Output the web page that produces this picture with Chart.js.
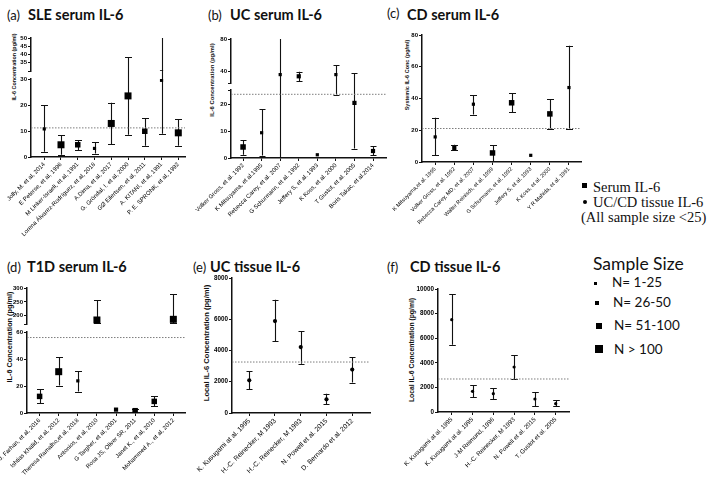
<!DOCTYPE html>
<html><head><meta charset="utf-8">
<script src="https://cdn.jsdelivr.net/npm/chart.js@4.4.1/dist/chart.umd.min.js"></script>
<style>
html,body{margin:0;padding:0;background:#fff;}
body{position:relative;width:709px;height:492px;overflow:hidden;}
canvas{position:absolute;left:0;top:0;}
.tx{position:absolute;white-space:nowrap;color:#111;line-height:1;transform:translateY(-50%);}
.ttl{font-family:Lato,'Open Sans',sans-serif;font-weight:bold;font-size:14.5px;}
.tag{font-family:Lato,'Open Sans',sans-serif;font-size:13px;}
.yt{position:absolute;white-space:nowrap;color:#111;line-height:1;font-family:'Liberation Sans',Arial,sans-serif;font-weight:bold;transform:translate(-50%,-50%) rotate(-90deg);}
.leg{font-family:'Liberation Serif','Times New Roman',serif;font-size:14.5px;}
.ss{font-family:Lato,'Open Sans',sans-serif;font-size:13.5px;}
.mk{position:absolute;background:#000;}
</style></head><body>

<!-- panel titles -->
<div class="tx tag" style="left:7px;top:15px">(a)</div><div class="tx ttl" style="left:28px;top:15px">SLE serum IL-6</div>
<div class="tx tag" style="left:208px;top:15px">(b)</div><div class="tx ttl" style="left:230px;top:15px">UC serum IL-6</div>
<div class="tx tag" style="left:387px;top:13px">(c)</div><div class="tx ttl" style="left:407px;top:15px">CD serum IL-6</div>
<div class="tx tag" style="left:7px;top:267px">(d)</div><div class="tx ttl" style="left:27px;top:267px">T1D serum IL-6</div>
<div class="tx tag" style="left:193px;top:267px">(e)</div><div class="tx ttl" style="left:210px;top:267px">UC tissue IL-6</div>
<div class="tx tag" style="left:387px;top:267px">(f)</div><div class="tx ttl" style="left:410px;top:267px">CD tissue IL-6</div>

<!-- y axis titles -->
<div class="yt" style="left:15px;top:67px;font-size:5.4px">IL-6 Concentration (pg/ml)</div>
<div class="yt" style="left:213px;top:80px;font-size:5.9px">IL-6 Concentration (pg/ml)</div>
<div class="yt" style="left:408px;top:75px;font-size:5.5px">Systemic IL-6 Conc (pg/ml)</div>
<div class="yt" style="left:10px;top:337px;font-size:7.3px">IL-6 Concentration (pg/ml)</div>
<div class="yt" style="left:207px;top:343px;font-size:7.6px">Local IL-6 Concentration (pg/ml)</div>
<div class="yt" style="left:412px;top:350px;font-size:6.8px">Local IL-6 Concentration (pg/ml)</div>

<!-- type legend -->
<div class="mk" style="left:582px;top:183px;width:5px;height:5px"></div>
<div class="tx leg" style="left:593px;top:187px">Serum IL-6</div>
<div class="mk" style="left:583px;top:200px;width:4px;height:4px;border-radius:50%"></div>
<div class="tx leg" style="left:593px;top:202px">UC/CD tissue IL-6</div>
<div class="tx leg" style="left:581px;top:217px">(All sample size &lt;25)</div>

<!-- sample size legend -->
<div class="tx ss" style="left:593px;top:264px;font-size:17.5px">Sample Size</div>
<div class="mk" style="left:593.5px;top:281.5px;width:3px;height:3px"></div>
<div class="tx ss" style="left:612px;top:283px">N= 1-25</div>
<div class="mk" style="left:595px;top:301px;width:4px;height:4px"></div>
<div class="tx ss" style="left:613px;top:303px">N= 26-50</div>
<div class="mk" style="left:596px;top:323px;width:5.5px;height:5.5px"></div>
<div class="tx ss" style="left:614px;top:326px">N= 51-100</div>
<div class="mk" style="left:595px;top:345px;width:7.5px;height:7.5px"></div>
<div class="tx ss" style="left:614px;top:350px">N &gt; 100</div>

<script>
// ---------- (a) SLE serum IL-6 ----------
const aLabels = ["Jolly, M. et al, 2014","E Peterse, et al, 1996","M Linker-Israeli, et al, 1991","Lorena Álvarez-Rodríguez, et al, 2018","A.Dima, et al, 2017","G. Gröndal, I. et al, 2000","GØ Eilertsen, et al, 2011","A. KITANI, et al, 1991","P. E. SPRONK, et al, 1992"];
const aMean = [10.8, 4.7, 4.7, 3.3, 12.9, 23.5, 9.9, 29.5, 9.3];
const aLow  = [2, 0.9, 2.7, 1.3, 4.9, 8.6, 4.3, 8.9, 4.3];
const aHigh = [20, 8.3, 6.5, 5.6, 20.9, 38.5, 15, 51, 14.5];
const aSize = [1, 4, 3, 1, 4, 4, 3, 1, 4];
const aRef = 11.2;
const aLowerTicks = [0, 10, 20, 30];
const aLowerTickLabels = ["0", "10", "20", "30"];
const aUpperTicks = [30, 35, 40, 45, 50];
const aUpperTickLabels = ["", "35", "40", "45", "50"];

// ---------- (b) UC serum IL-6 ----------
const bLabels = ["Volker Gross, et al. 1992","K Mitsuyama, et al.1995","Rebecca Carey, et al. 2007","G Schurmann, et al. 1992","Jeffery S, et al. 1993","K Koss, et al. 2000","T Gustot, et al. 2005","Boris Takac, et al.2014"];
const bMean = [4.1, 9.4, 35.9, 33.8, 1.2, 35.9, 20.5, 2.6];
const bLow  = [1.2, 0.9, 0, 27.6, null, 23.6, 3.5, 1.0];
const bHigh = [6.6, 18.1, 82, 39.5, null, 47.4, 37.9, 4.5];
const bSize = [3, 1, 1, 2, 1, 1, 2, 2];
const bRef = 23.7;
const bLowerTicks = [0, 10, 20, 25.3];
const bLowerTickLabels = ["0", "10", "20", ""];
const bUpperTicks = [25.5, 40, 80];
const bUpperTickLabels = ["", "40", "80"];

// ---------- (c) CD serum IL-6 ----------
const cLabels = ["K Mitsuyama,et al. 1995","Volker Gross, et al. 1992","Rebecca Carey, MD, et al. 2007","Walter Reinisch, et al. 1999","G Schurmann, et al. 1992","Jeffery S, et al. 1993","K Koss, et al. 2000","Y R Mahida, et al. 1991"];
const cMean = [15.8, 8.8, 36.4, 5.7, 37.3, 4.2, 30.3, 46.9];
const cLow  = [4.2, 7.4, 29.9, 0.4, 31.2, null, 21.1, 21.1];
const cHigh = [27.8, 10.9, 42.1, 10.5, 43.2, null, 39.4, 73.3];
const cSize = [1, 2, 1, 3, 3, 1, 3, 1];
const cRef = 21.1;
const cTicks = [0, 20, 40, 60, 80];
const cTickLabels = ["0", "20", "40", "60", "80"];

// ---------- (d) T1D serum IL-6 ----------
const dLabels = ["J. Farhan, et al, 2016","Ishtias Khalid, et al, 2012","Theresa Ramalho,et al, 2018","Antonios, et al, 2010","G Targher, et al, 2001","Rosa JS, Oliver SR, 2011","Janet K., et al, 2010","Mohammed A., et al, 2012"];
const dMean = [12.3, 30.6, 23.8, 184.5, 2.5, 1.7, 8.6, 186.9];
const dLow  = [7.4, 20.3, 15.9, 175, null, 0.7, 4.9, 173.8];
const dHigh = [17.6, 41.4, 30.9, 256, null, 2.9, 12.3, 277.4];
const dSize = [3, 4, 1, 4, 2, 3, 3, 4];
const dRef = 55.9;
const dLowerTicks = [0, 20, 40, 60];
const dLowerTickLabels = ["0", "20", "40", "60"];
const dUpperTicks = [170, 200, 250, 300];
const dUpperTickLabels = ["", "200", "250", "300"];

// ---------- (e) UC tissue IL-6 ----------
const eLabels = ["K. Kusugami at al. 1995","H.-C. Reinecker, M 1993","H.-C. Reinecker, M 1993","N. Powell et al. 2015","D. Bernardo et al. 2012"];
const eMean = [2085, 5870, 4210, 870, 2770];
const eLow  = [1510, 4575, 3150, 550, 1940];
const eHigh = [2660, 7230, 5230, 1230, 3570];
const eSize = [2, 2, 2, 2, 2];
const eRef = 3255;
const eTicks = [0, 2000, 4000, 6000, 8620];
const eTickLabels = ["0", "2000", "4000", "6000", "8000"];

// ---------- (f) CD tissue IL-6 ----------
const fLabels = ["K. Kusugami at al. 1995","K. Kusugami at al. 1995","J-M Reimund, 1996","H.-C. Reinecker, M 1993","N. Powell et al. 2015","T. Gustot et al. 2005"];
const fMean = [7507, 1680, 1490, 3659, 1057, 678];
const fLow  = [5474, 1192, 1057, 2683, 461, 461];
const fHigh = [9593, 2168, 1951, 4607, 1626, 949];
const fSize = [1, 1, 1, 1, 1, 1];
const fRef = 2683;
const fTicks = [0, 2000, 4000, 6000, 8000, 10000];
const fTickLabels = ["0", "2000", "4000", "6000", "8000", "10000"];

// marker side lengths for sample size groups 1..4
const SIDES = [3.2, 4.2, 5.5, 7];
const YW = 25;   // fixed y-axis box width

Chart.defaults.font.family = "'Liberation Sans', Arial, sans-serif";
Chart.defaults.color = '#111';

const errPlugin = {
  id: 'errbars',
  beforeDatasetsDraw(chart) {
    const o = chart.options.plugins.errbars;
    if (!o || !o.low) return;
    const ctx = chart.ctx, a = chart.chartArea;
    const xs = chart.scales.x, ys = chart.scales.y;
    const ext = o.ext || 0;
    ctx.save();
    ctx.beginPath();
    ctx.rect(a.left - 20, a.top - ext, a.right - a.left + 40, a.bottom - a.top + ext);
    ctx.clip();
    ctx.strokeStyle = '#111';
    ctx.lineWidth = 1.1;
    const inR = v => v >= ys.min - 1e-9 && v <= ys.max + 1e-9;
    o.low.forEach((lo, i) => {
      const hi = o.high[i];
      if (lo == null || hi == null) return;
      if (lo > ys.max || hi < ys.min) return;
      const px = Math.round(xs.getPixelForValue(i)) + 0.5;
      const yl = lo < ys.min ? a.bottom + 2 : ys.getPixelForValue(lo);
      const yh = hi > ys.max ? a.top - ext - 2 : ys.getPixelForValue(hi);
      ctx.beginPath();
      ctx.moveTo(px, yl); ctx.lineTo(px, yh);
      if (inR(lo)) { const y = Math.round(yl) + 0.5; ctx.moveTo(px - o.cap, y); ctx.lineTo(px + o.cap, y); }
      if (inR(hi)) { const y = Math.round(yh) + 0.5; ctx.moveTo(px - o.cap, y); ctx.lineTo(px + o.cap, y); }
      ctx.stroke();
    });
    ctx.restore();
  }
};

function makeChart(p) {
  const cv = document.createElement('canvas');
  cv.width = 709; cv.height = 492;
  cv.style.width = '709px'; cv.style.height = '492px';
  document.body.appendChild(cv);
  const circle = p.style === 'circle';
  const xh = p.showX ? Math.min(95, 492 - p.bottom) : 0;
  const datasets = [{
    type: 'scatter',
    data: p.mean.map((m, i) => ({x: i, y: m})),
    pointStyle: circle ? 'circle' : 'rect',
    pointRadius: p.size.map(g => circle ? SIDES[g - 1] / 2 : SIDES[g - 1] / Math.SQRT2),
    pointBackgroundColor: '#000', pointBorderWidth: 0,
    backgroundColor: '#000', borderColor: '#000', borderWidth: 0,
    clip: p.clip0 ? 0 : undefined
  }];
  if (p.ref != null) {
    datasets.push({type: 'line', data: [{x: p.xmin, y: p.ref}, {x: p.xmax, y: p.ref}],
      borderColor: '#7d7d7d', borderWidth: 1, borderDash: [1.5, 1.5], pointRadius: 0, fill: false, clip: 0});
  }
  new Chart(cv, {
    type: 'scatter',
    data: {datasets},
    options: {
      responsive: false, animation: false, events: [],
      layout: {autoPadding: false, padding: {left: p.left - YW, top: p.top, right: 709 - p.right, bottom: 492 - p.bottom - xh}},
      plugins: {legend: {display: false}, tooltip: {enabled: false},
        errbars: {low: p.low, high: p.high, cap: p.cap, ext: p.ext || 0}},
      scales: {
        x: {
          type: 'linear', min: p.xmin, max: p.xmax, display: p.showX,
          afterBuildTicks: s => { s.ticks = p.labels.map((_, i) => ({value: i})); },
          afterFit: s => { s.height = xh; s.paddingLeft = 0; s.paddingRight = 0; },
          ticks: {autoSkip: false, minRotation: 45, maxRotation: 45, padding: 1,
            callback: (v, i) => p.labels[i], font: {size: p.xFont}, color: '#000'},
          grid: {display: true, drawOnChartArea: false, drawTicks: true, tickLength: 3, color: '#111', lineWidth: 1},
          border: {display: true, color: '#111', width: 1.5}
        },
        y: {
          type: 'linear', min: p.ymin, max: p.ymax,
          afterBuildTicks: s => { s.ticks = p.ticks.map(v => ({value: v})); },
          afterFit: s => { s.width = YW; s.paddingTop = 0; s.paddingBottom = 0; },
          ticks: {autoSkip: false, padding: 1, callback: (v, i) => p.tickLabels[i],
            font: {size: p.yFont || 6, weight: 'bold'}, color: '#000'},
          grid: {display: true, drawOnChartArea: false, drawTicks: true, tickLength: 3, color: '#111', lineWidth: 1},
          border: {display: true, color: '#111', width: 1.5}
        }
      }
    },
    plugins: [errPlugin]
  });
}

// (a)
makeChart({labels: aLabels, mean: aMean, low: aLow, high: aHigh, size: aSize,
  xmin: -0.79, xmax: 8.4, left: 31, right: 185, top: 38, bottom: 71,
  ymin: 30, ymax: 50, ticks: aUpperTicks, tickLabels: aUpperTickLabels,
  showX: false, xFont: 6, yFont: 6, cap: 3.5, clip0: true});
makeChart({labels: aLabels, mean: aMean, low: aLow, high: aHigh, size: aSize, ref: aRef,
  xmin: -0.79, xmax: 8.4, left: 31, right: 185, top: 79, bottom: 157,
  ymin: 0, ymax: 30, ticks: aLowerTicks, tickLabels: aLowerTickLabels,
  showX: true, xFont: 6, yFont: 6, cap: 3.5, ext: 8});

// (b)
makeChart({labels: bLabels, mean: bMean, low: bLow, high: bHigh, size: bSize,
  xmin: -0.65, xmax: 7.7, left: 231, right: 386, top: 39, bottom: 83,
  ymin: 25.5, ymax: 80, ticks: bUpperTicks, tickLabels: bUpperTickLabels,
  showX: false, xFont: 6, yFont: 6, cap: 3, clip0: true});
makeChart({labels: bLabels, mean: bMean, low: bLow, high: bHigh, size: bSize, ref: bRef,
  xmin: -0.65, xmax: 7.7, left: 231, right: 386, top: 90, bottom: 158,
  ymin: 0, ymax: 25.3, ticks: bLowerTicks, tickLabels: bLowerTickLabels,
  showX: true, xFont: 6, yFont: 6, cap: 3, ext: 7});

// (c)
makeChart({labels: cLabels, mean: cMean, low: cLow, high: cHigh, size: cSize, ref: cRef,
  xmin: -0.69, xmax: 7.63, left: 422, right: 581, top: 35, bottom: 162,
  ymin: 0, ymax: 80, ticks: cTicks, tickLabels: cTickLabels,
  showX: true, xFont: 5.5, yFont: 6, cap: 3.5});

// (d)
makeChart({labels: dLabels, mean: dMean, low: dLow, high: dHigh, size: dSize,
  xmin: -0.66, xmax: 7.61, left: 27, right: 185, top: 288, bottom: 324,
  ymin: 170, ymax: 300, ticks: dUpperTicks, tickLabels: dUpperTickLabels,
  showX: false, xFont: 6, yFont: 6, cap: 3.5, clip0: true});
makeChart({labels: dLabels, mean: dMean, low: dLow, high: dHigh, size: dSize, ref: dRef,
  xmin: -0.66, xmax: 7.61, left: 27, right: 185, top: 332, bottom: 413,
  ymin: 0, ymax: 60, ticks: dLowerTicks, tickLabels: dLowerTickLabels,
  showX: true, xFont: 6, yFont: 6, cap: 3.5, ext: 8});

// (e)
makeChart({labels: eLabels, mean: eMean, low: eLow, high: eHigh, size: eSize, ref: eRef, style: 'circle',
  xmin: -0.67, xmax: 4.69, left: 232, right: 370, top: 278, bottom: 413,
  ymin: 0, ymax: 8620, ticks: eTicks, tickLabels: eTickLabels,
  showX: true, xFont: 6.8, yFont: 6.3, cap: 3});

// (f)
makeChart({labels: fLabels, mean: fMean, low: fLow, high: fHigh, size: fSize, ref: fRef, style: 'circle',
  xmin: -0.66, xmax: 5.64, left: 438, right: 569, top: 289, bottom: 412,
  ymin: 0, ymax: 10000, ticks: fTicks, tickLabels: fTickLabels,
  showX: true, xFont: 6.2, yFont: 6.3, cap: 3.3});
</script>
</body></html>
